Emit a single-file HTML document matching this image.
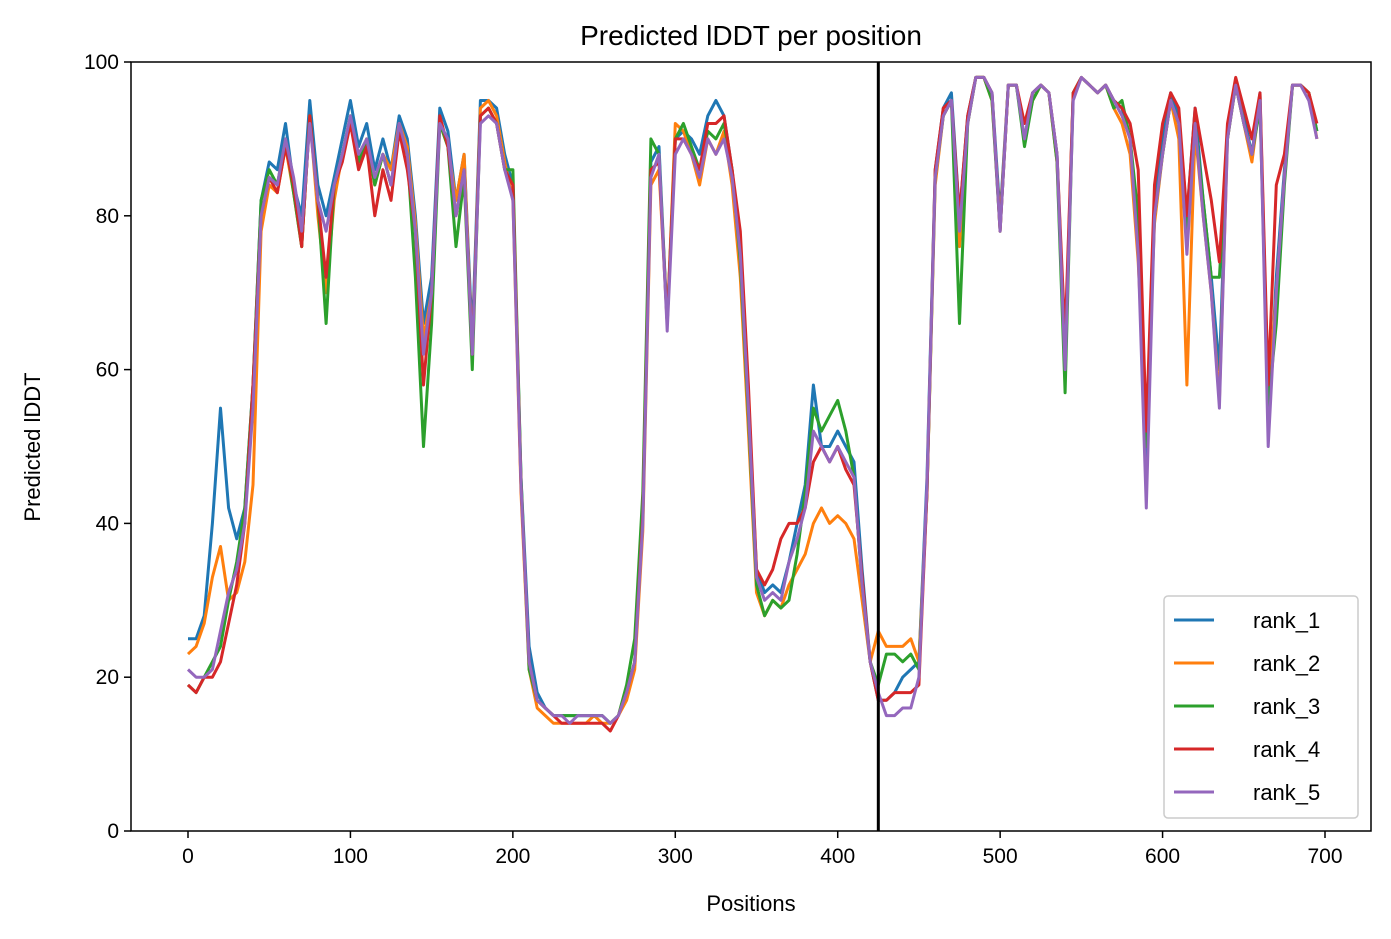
<!DOCTYPE html>
<html><head><meta charset="utf-8">
<style>
html,body{margin:0;padding:0;background:#fff;}
svg{display:block;font-family:"Liberation Sans","DejaVu Sans",sans-serif;}
</style></head>
<body>
<svg id="chart" width="1391" height="939" viewBox="0 0 1391 939" xmlns="http://www.w3.org/2000/svg">
<rect x="0" y="0" width="1391" height="939" fill="#fff"/>
<text x="751" y="45" font-size="28" text-anchor="middle" fill="#000">Predicted lDDT per position</text>
<text x="751" y="911" font-size="22" text-anchor="middle" fill="#000">Positions</text>
<text x="40" y="447" font-size="22" text-anchor="middle" fill="#000" transform="rotate(-90 40 447)">Predicted lDDT</text>
<g id="plot"></g>
<g id="axes"></g>
<g id="legend"></g>
</svg>
<script>
const step = 5;
const seriesNames = ["rank_1","rank_2","rank_3","rank_4","rank_5"];
const seriesColors = ["#1f77b4","#ff7f0e","#2ca02c","#d62728","#9467bd"];
const xTicks = [0,100,200,300,400,500,600,700];
const yTicks = [0,20,40,60,80,100];
const cutPosition = 425;

const rank1 = [25,25,28,40,55,42,38,42,58,82,87,86,92,84,80,95,84,80,85,90,95,89,92,86,90,86,93,90,80,66,72,94,91,82,88,64,95,95,94,88,84,46,24,18,16,15,15,15,15,15,15,15,14,15,18,22,42,87,89,66,90,91,90,88,93,95,93,86,76,56,34,31,32,31,35,40,45,58,50,50,52,50,48,34,22,17,17,18,20,21,22,46,86,94,96,80,93,98,98,96,80,97,97,90,96,97,96,88,62,96,98,97,96,97,95,94,90,78,44,82,90,96,93,80,94,82,72,60,91,97,93,88,96,52,72,86,97,97,96,91];
const rank2 = [23,24,27,33,37,30,31,35,45,78,84,83,89,83,76,93,80,70,82,88,92,87,90,84,88,86,92,89,79,64,70,92,89,82,88,62,94,95,93,87,82,44,21,16,15,14,14,14,14,14,15,14,14,15,17,21,39,84,86,66,92,91,88,84,90,88,91,84,72,52,31,28,30,29,32,34,36,40,42,40,41,40,38,30,22,26,24,24,24,25,22,44,84,93,95,76,92,98,98,95,79,97,97,90,95,97,96,87,61,96,98,97,96,97,94,92,88,74,52,79,88,95,90,58,91,80,70,56,90,97,92,87,95,56,70,85,97,97,96,90];
const rank3 = [19,18,20,22,24,30,35,42,58,82,86,84,90,83,76,93,82,66,84,88,93,87,90,84,88,84,91,88,72,50,66,92,89,76,85,60,93,94,92,86,86,46,21,17,16,15,15,15,15,15,15,15,14,15,19,25,44,90,88,66,90,92,89,86,91,90,92,86,74,54,32,28,30,29,30,36,44,55,52,54,56,52,46,32,22,19,23,23,22,23,21,44,85,93,95,66,92,98,98,95,78,97,97,89,95,97,96,87,57,96,98,97,96,97,94,95,90,80,50,80,88,95,92,78,92,82,72,72,90,97,92,88,94,55,66,84,97,97,96,91];
const rank4 = [19,18,20,20,22,27,32,40,58,80,85,83,89,84,76,93,82,72,84,87,92,86,89,80,86,82,91,86,78,58,70,93,89,80,86,62,93,94,92,86,84,45,22,17,16,15,14,14,14,14,14,14,13,15,18,22,41,86,87,66,90,90,88,86,92,92,93,86,78,58,34,32,34,38,40,40,42,48,50,48,50,47,45,33,22,17,17,18,18,18,19,44,86,94,95,80,93,98,98,96,78,97,97,92,96,97,96,88,64,96,98,97,96,97,95,94,92,86,52,84,92,96,94,80,94,88,82,74,92,98,94,90,96,58,84,88,97,97,96,92];
const rank5 = [21,20,20,21,26,31,34,40,55,80,85,84,90,85,78,92,82,78,84,88,93,88,90,85,88,84,92,88,78,62,70,92,90,80,86,62,92,93,92,86,82,45,22,17,16,15,15,14,15,15,15,15,14,15,18,22,40,85,88,65,88,90,88,85,90,88,90,85,75,55,33,30,31,30,35,38,42,52,50,48,50,48,46,32,22,18,15,15,16,16,20,45,85,93,95,78,92,98,98,96,78,97,97,90,96,97,96,88,60,95,98,97,96,97,95,93,90,75,42,80,88,95,92,75,92,80,70,55,90,97,92,88,95,50,70,85,97,97,95,90];
const seriesValues = [rank1,rank2,rank3,rank4,rank5];

const L=131,R=1371,T=62,B=831;
function xs(v){return 188 + v*(1325-188)/700;}
function ys(v){return 831 - v*(831-62)/100;}
const NS="http://www.w3.org/2000/svg";
function mk(tag,attrs,parent){const e=document.createElementNS(NS,tag);for(const k in attrs)e.setAttribute(k,attrs[k]);parent.appendChild(e);return e;}

const plot=document.getElementById('plot');
seriesValues.forEach((vals,si)=>{
  const pts=vals.map((v,i)=>xs(i*step).toFixed(1)+","+ys(v).toFixed(1)).join(" ");
  const pl=mk('polyline',{points:pts,fill:'none',stroke:seriesColors[si],'stroke-width':3,'stroke-linejoin':'round'},plot);
  
  
});
const vl=mk('line',{x1:xs(cutPosition),x2:xs(cutPosition),y1:T,y2:B,stroke:'#000','stroke-width':3},plot);



const axes=document.getElementById('axes');
const fr=mk('rect',{x:L,y:T,width:R-L,height:B-T,fill:'none',stroke:'#000','stroke-width':1.5},axes);


xTicks.forEach(t=>{
  const x=xs(t);
  mk('line',{x1:x,x2:x,y1:B,y2:B+7,stroke:'#000','stroke-width':1.5},axes);
  const tx=mk('text',{x:x,y:B+32,'font-size':21,'text-anchor':'middle',fill:'#000'},axes);
  tx.textContent=t;
  
  
});
yTicks.forEach(t=>{
  const y=ys(t);
  mk('line',{x1:L-7,x2:L,y1:y,y2:y,stroke:'#000','stroke-width':1.5},axes);
  const tx=mk('text',{x:L-12,y:y+7,'font-size':21,'text-anchor':'end',fill:'#000'},axes);
  tx.textContent=t;
  
  
});

const lg=document.getElementById('legend');
const box=mk('rect',{x:1164,y:596,width:194,height:222,rx:4,fill:'#fff','fill-opacity':0.8,stroke:'#ccc','stroke-width':1.5},lg);


seriesNames.forEach((n,i)=>{
  const y=620+i*43;
  const g=mk('g',{},lg);
  
  
  mk('line',{x1:1174,x2:1214,y1:y,y2:y,stroke:seriesColors[i],'stroke-width':3},g);
  const t=mk('text',{x:1253,y:y+8,'font-size':22,fill:'#000'},g);
  t.textContent=n;
});
</script>
</body></html>
